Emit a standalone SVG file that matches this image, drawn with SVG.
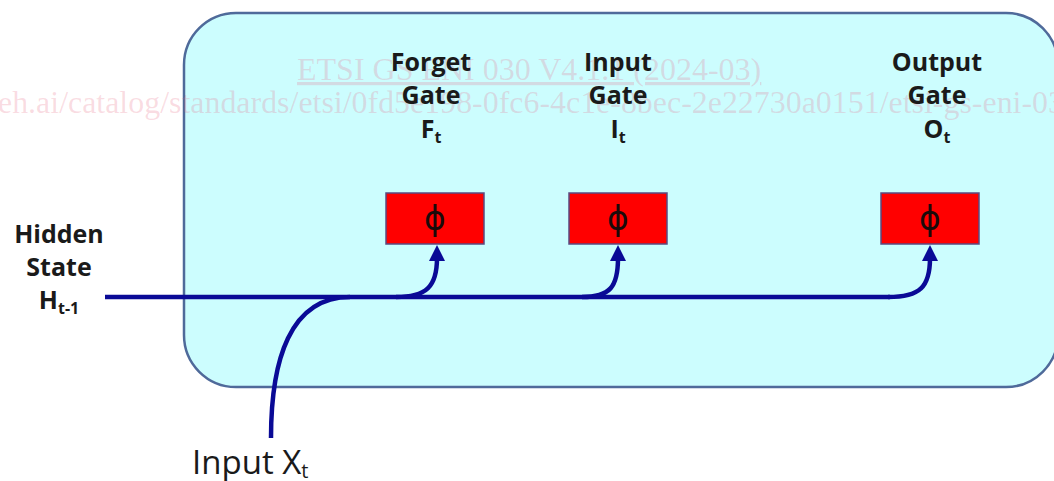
<svg xmlns="http://www.w3.org/2000/svg" width="1054" height="481" viewBox="0 0 1054 481">
<style>
.lbl{font-family:"Open Sans","Noto Sans",sans-serif;font-weight:bold;font-size:25px;fill:#1a1a1a;text-anchor:middle}
.sub{font-size:16px}
.gate{fill:#ff0000;stroke:#5a4a80;stroke-width:1.5}
.phi{font-family:"DejaVu Sans",sans-serif;font-size:33px;fill:#1a0a0a;text-anchor:middle}
.wire{fill:none;stroke:#0a0a96;stroke-width:4.5;stroke-linecap:butt}
.head{fill:#0a0a96}
.wm{font-family:"Liberation Serif",serif;fill:#e8607e;fill-opacity:0.22}
</style>
<rect width="1054" height="481" fill="#ffffff"/>
<g id="cell">
<rect x="184" y="13" width="874" height="374" rx="52" ry="52" fill="#ccfdfe" stroke="#4f6a9a" stroke-width="2.5"/>
</g>
<g id="watermark">
<text class="wm" x="297" y="80" font-size="32" text-decoration="underline">ETSI GS ENI 030 V4.1.1 (2024-03)</text>
<text class="wm" x="-2" y="113" font-size="31" textLength="1066" lengthAdjust="spacingAndGlyphs">eh.ai/catalog/standards/etsi/0fd5e198-0fc6-4c1e-8bec-2e22730a0151/etsi-gs-eni-03</text>
</g>
<g id="connectors">
<path class="wire" d="M105,297 H890"/>
<path class="wire" d="M271,438 C271,360 290,297 350,297"/>
<path class="wire" d="M396,297 C426,297 437,287 437,258"/>
<path class="wire" d="M582,297 C610,297 618,287 618,258"/>
<path class="wire" d="M888,297 C920,297 930,287 930,258"/>
<polygon class="head" points="437,245 445,261 429,261"/>
<polygon class="head" points="618,245 626,261 610,261"/>
<polygon class="head" points="930,245 938,261 922,261"/>
</g>
<g id="forget-gate">
<text class="lbl" x="431" y="71">Forget</text>
<text class="lbl" x="431" y="104">Gate</text>
<text class="lbl" x="431" y="138">F<tspan class="sub" dy="5">t</tspan></text>
<rect class="gate" x="386" y="193" width="98" height="51"/>
<text class="phi" x="435" y="230">ϕ</text>
</g>
<g id="input-gate">
<text class="lbl" x="618" y="71">Input</text>
<text class="lbl" x="618" y="104">Gate</text>
<text class="lbl" x="618" y="138">I<tspan class="sub" dy="5">t</tspan></text>
<rect class="gate" x="569" y="193" width="98" height="51"/>
<text class="phi" x="618" y="230">ϕ</text>
</g>
<g id="output-gate">
<text class="lbl" x="937" y="71">Output</text>
<text class="lbl" x="937" y="104">Gate</text>
<text class="lbl" x="937" y="138">O<tspan class="sub" dy="5">t</tspan></text>
<rect class="gate" x="881" y="193" width="98" height="51"/>
<text class="phi" x="930" y="230">ϕ</text>
</g>
<g id="hidden-state">
<text class="lbl" x="59" y="243">Hidden</text>
<text class="lbl" x="59" y="276">State</text>
<text class="lbl" x="59" y="309">H<tspan class="sub" dy="5">t-1</tspan></text>
</g>
<g id="input-x">
<text x="192" y="474" style="font-family:'Open Sans','Noto Sans',sans-serif;font-size:33px;fill:#1a1a1a">Input X<tspan font-size="20" dy="4">t</tspan></text>
</g>
</svg>
